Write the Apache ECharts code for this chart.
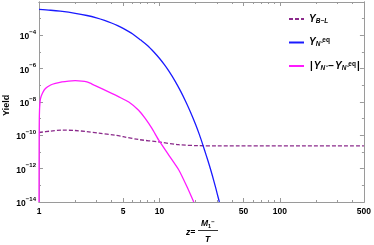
<!DOCTYPE html>
<html><head><meta charset="utf-8">
<script src="https://cdn.jsdelivr.net/npm/echarts@6/dist/echarts.min.js"></script>
<style>html,body{margin:0;padding:0;background:#fff}#c{width:374px;height:245px}</style>
</head><body><div id="c"></div>
<script>
// ---- data ----
const blueZ = [1, 1.25, 1.5, 2, 2.5, 3, 3.5, 4, 4.5, 5, 6, 7, 8, 9, 10, 11, 12, 13.5, 15, 16.5, 18, 20, 21.5, 23, 24.5, 26, 27.5, 29, 30.2, 31.5];
const blueY = [3.6e-3, 3.2e-3, 2.8e-3, 2.1e-3, 1.55e-3, 1.12e-3, 7.9e-4, 5.5e-4, 3.8e-4, 2.6e-4, 1.2e-4, 5.2e-5, 2.4e-5, 1.0e-5, 4.2e-6, 1.74e-6, 7.1e-7, 1.8e-7, 4.5e-8, 1.12e-8, 2.8e-9, 4.5e-10, 1.1e-10, 2.6e-11, 6.3e-12, 1.6e-12, 4.0e-13, 1.0e-13, 3.2e-14, 1.0e-14];
const magZ = [1, 1.003, 1.01, 1.029, 1.07, 1.131, 1.25, 1.368, 1.55, 1.76, 2.0, 2.27, 2.5, 2.66, 2.87, 3.32, 4.06, 4.61, 5.57, 6.72, 7.65, 8.7, 9.88, 12, 14.5, 17, 19.3];
const magY = [1e-14, 1e-10, 3.2e-9, 1.6e-8, 3.5e-8, 6.5e-8, 1.05e-7, 1.3e-7, 1.6e-7, 1.8e-7, 1.9e-7, 1.8e-7, 1.6e-7, 1.35e-7, 1.02e-7, 6.3e-8, 3.2e-8, 2.04e-8, 1.0e-8, 3.2e-9, 1.0e-9, 2.5e-10, 5.1e-11, 6.3e-12, 8.3e-13, 7.9e-14, 1e-14];
const blZ = [1, 1.25, 1.55, 2, 2.5, 3.15, 4.27, 5, 6.72, 9.9, 14.4, 21, 30, 500];
const blY = [1.48e-10, 1.8e-10, 2.04e-10, 1.95e-10, 1.66e-10, 1.35e-10, 1.02e-10, 8.3e-11, 5.6e-11, 4.0e-11, 2.75e-11, 2.4e-11, 2.35e-11, 2.35e-11];
const xMajor = [1, 5, 10, 50, 100, 500];
const xMinor = [2, 3, 4, 6, 7, 8, 9, 20, 30, 40, 60, 70, 80, 90, 200, 300, 400];
const yMajor = [1e-14, 1e-12, 1e-10, 1e-8, 1e-6, 1e-4, 1e-2];
const yMinor = [1e-13, 1e-11, 1e-9, 1e-7, 1e-5, 1e-3];
const yLabels = [1e-14, 1e-12, 1e-10, 1e-8, 1e-6, 1e-4];

const zip = (a, b) => a.map((v, i) => [v, b[i]]);
const frame = '#9a9a9a';
const FONT = 'Liberation Sans';

function xAx(pos, ticks, len, show) {
  return {
    type: 'log', logBase: 10, min: 1, max: 500, position: pos,
    axisLine: {show: true, lineStyle: {color: frame, width: 1}},
    axisTick: {show: true, inside: true, length: len, customValues: ticks, lineStyle: {color: frame}},
    axisLabel: show ? {show: true, customValues: xMajor, color: '#000', fontFamily: FONT, fontWeight: 'bold', fontSize: 8.5, margin: 5,
      formatter: v => String(Math.round(v))} : {show: false},
    splitLine: {show: false}
  };
}
function yAx(pos, ticks, len, show) {
  return {
    type: 'log', logBase: 10, min: 1e-14, max: 1e-2, position: pos,
    axisLine: {show: true, lineStyle: {color: frame, width: 1}},
    axisTick: {show: true, inside: true, length: len, customValues: ticks, lineStyle: {color: frame}},
    axisLabel: show ? {show: true, customValues: yLabels, margin: 3,
      formatter: v => '{b|10}{s|' + '\u2212' + Math.abs(Math.round(Math.log10(v))) + '}',
      rich: {
        b: {fontFamily: FONT, fontWeight: 'bold', fontSize: 8.5, color: '#000', lineHeight: 12, verticalAlign: 'bottom'},
        s: {fontFamily: FONT, fontWeight: 'bold', fontSize: 6, color: '#000', lineHeight: 7, verticalAlign: 'top'}
      }} : {show: false},
    splitLine: {show: false}
  };
}

const legRich = {
  y: {fontFamily: FONT, fontStyle: 'italic', fontWeight: 'bold', fontSize: 10, color: '#000', lineHeight: 11, verticalAlign: 'middle'},
  t: {fontFamily: FONT, fontWeight: 'bold', fontSize: 10, color: '#000', lineHeight: 11, verticalAlign: 'middle', padding: [0, 1, 0, 1]},
  sub: {fontFamily: FONT, fontStyle: 'italic', fontWeight: 'bold', fontSize: 6.5, color: '#000', lineHeight: 6, verticalAlign: 'bottom'},
  sup: {fontFamily: FONT, fontWeight: 'bold', fontSize: 6.5, color: '#000', lineHeight: 6, verticalAlign: 'top'}
};
const legText = {
  'YBL': '{y|Y}{sub|B\u2212L}',
  'Yeq': '{y|Y}{sub|N\u207B}{sup|eq}',
  'Ydiff': '{t||}{y|Y}{sub|N\u207B}{t|\u2212}{y|Y}{sub|N\u207B}{sup|eq}{t||}'
};

const chart = echarts.init(document.getElementById('c'), null, {renderer: 'canvas'});
chart.setOption({
  animation: false,
  grid: {left: 39, right: 7, top: 2, bottom: 43, containLabel: false},
  xAxis: [xAx('bottom', xMajor, 4, true), xAx('bottom', xMinor, 2, false), xAx('top', xMajor, 4, false), xAx('top', xMinor, 2, false)],
  yAxis: [yAx('left', yMajor, 4, true), yAx('left', yMinor, 2, false), yAx('right', yMajor, 4, false), yAx('right', yMinor, 2, false)],
  legend: {
    orient: 'vertical', left: 283, top: 9, itemWidth: 15, itemHeight: 8, itemGap: 12.5,
    data: ['YBL', 'Yeq', 'Ydiff'],
    itemStyle: {opacity: 0},
    formatter: n => legText[n],
    textStyle: {rich: legRich}
  },
  series: [
    {name: 'YBL', type: 'line', data: zip(blZ, blY), showSymbol: false, symbol: 'none', smooth: 0.3,
      lineStyle: {color: '#8b2a8b', width: 1.3, type: [4, 2]}, itemStyle: {color: '#8b2a8b'}},
    {name: 'Yeq', type: 'line', data: zip(blueZ, blueY), showSymbol: false, symbol: 'none', smooth: 0.3,
      lineStyle: {color: '#1a1aff', width: 1.3}, itemStyle: {color: '#1a1aff'}},
    {name: 'Ydiff', type: 'line', data: zip(magZ, magY), showSymbol: false, symbol: 'none', smooth: 0.15,
      lineStyle: {color: '#ff1aff', width: 1.3}, itemStyle: {color: '#ff1aff'}}
  ],
  graphic: [
    {type: 'text', x: 2, y: 116, rotation: Math.PI / 2, style: {text: 'Yield', font: 'bold 9px "Liberation Sans"', fill: '#000'}},
    {type: 'text', x: 186, y: 228, style: {text: 'z=', font: 'italic bold 8.5px "Liberation Sans"', fill: '#000'}},
    {type: 'line', shape: {x1: 198, y1: 230.5, x2: 218, y2: 230.5}, style: {stroke: '#000', lineWidth: 0.8}},
    {type: 'text', x: 201, y: 219, style: {text: '{m|M}{s|1}{p|\u2212}', rich: {
      m: {font: 'italic bold 8.5px "Liberation Sans"', fill: '#000', lineHeight: 10, verticalAlign: 'middle'},
      s: {font: 'bold 5.5px "Liberation Sans"', fill: '#000', lineHeight: 6, verticalAlign: 'bottom'},
      p: {font: 'bold 6px "Liberation Sans"', fill: '#000', lineHeight: 6, verticalAlign: 'top'}}}},
    {type: 'text', x: 205, y: 235, style: {text: 'T', font: 'italic bold 8.5px "Liberation Sans"', fill: '#000'}}
  ]
});
</script></body></html>
